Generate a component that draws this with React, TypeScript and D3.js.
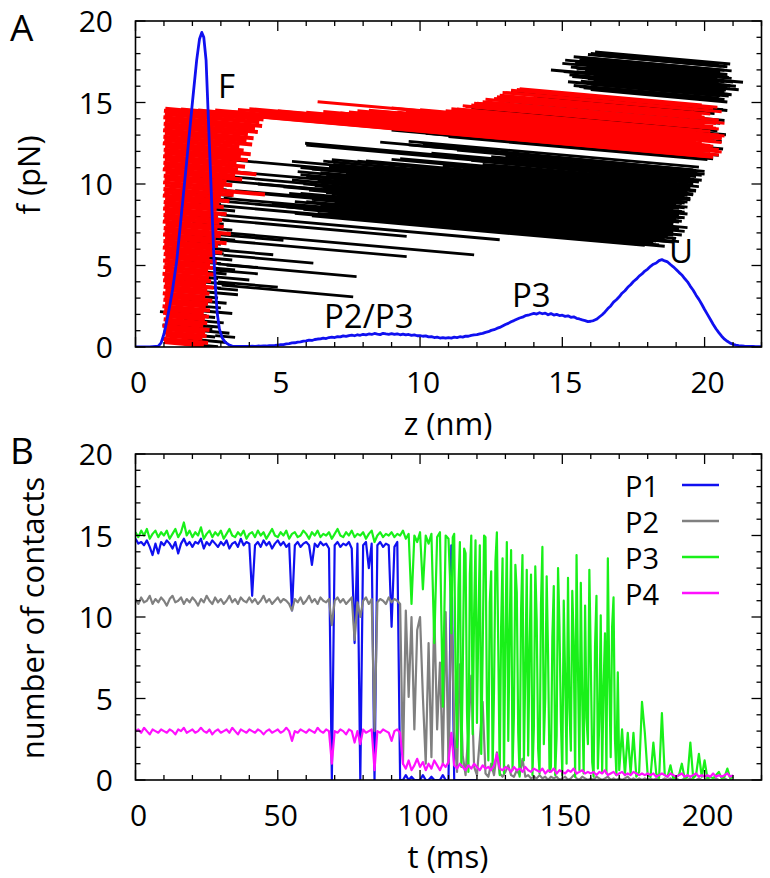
import React from "react";
import * as d3 from "d3";

const W = 770;
const H = 878;
const FONT = "'Open Sans', 'DejaVu Sans', sans-serif";

// ---------- tick labels ----------
const zTickLabels = [0, 5, 10, 15, 20];
const fTickLabels = [0, 5, 10, 15, 20];
const tTickLabels = [0, 50, 100, 150, 200];
const nTickLabels = [0, 5, 10, 15, 20];

// ---------- Panel A: distribution P(z) (blue) ----------
const peakZ = [0, 0.5, 0.8, 0.9, 1.0, 1.1, 1.2, 1.3, 1.45, 1.6, 1.8, 2.0, 2.15, 2.25, 2.33, 2.4, 2.48, 2.55, 2.62, 2.7, 2.76, 2.82, 2.87, 2.95, 3.05, 3.15, 3.3, 3.4];
const peakP = [0, 0, 0.05, 0.25, 0.8, 1.6, 2.5, 3.5, 5.3, 7.9, 11.4, 15.0, 17.6, 18.9, 19.3, 19.0, 17.6, 14.5, 11.4, 7.9, 5.3, 3.4, 2.1, 1.1, 0.55, 0.3, 0.12, 0.06];
// z = 3.5 ... 22.0 nm, every 0.1 nm
const tailZ = d3.range(35, 221).map((i) => i / 10);
const tailP = [
  0.04, 0.03, 0.04, 0.03, 0.04,
  0.04, 0.05, 0.04, 0.06, 0.05, 0.07, 0.06, 0.08, 0.09, 0.10,
  0.12, 0.14, 0.15, 0.19, 0.21, 0.25, 0.26, 0.30, 0.31, 0.36,
  0.37, 0.42, 0.40, 0.46, 0.49, 0.50, 0.55, 0.52, 0.58, 0.60,
  0.58, 0.64, 0.62, 0.68, 0.65, 0.70, 0.73, 0.69, 0.75, 0.72,
  0.78, 0.74, 0.80, 0.77, 0.83, 0.79, 0.76, 0.84, 0.80, 0.78,
  0.82, 0.77, 0.81, 0.75, 0.79, 0.74, 0.77, 0.71, 0.74, 0.69,
  0.70, 0.66, 0.68, 0.62, 0.64, 0.58, 0.61, 0.55, 0.58, 0.54,
  0.57, 0.55, 0.60, 0.58, 0.63, 0.61, 0.67, 0.66, 0.71, 0.74,
  0.76, 0.81, 0.84, 0.90, 0.94, 1.02, 1.06, 1.14, 1.20, 1.29,
  1.38, 1.45, 1.55, 1.62, 1.70, 1.78, 1.83, 1.92, 1.95, 2.01,
  2.06, 2.02, 2.10, 2.04, 2.08, 1.98, 2.05, 1.96, 2.00, 1.93,
  1.95, 1.88, 1.91, 1.82, 1.85, 1.76, 1.72, 1.66, 1.62, 1.56,
  1.58, 1.62, 1.70, 1.84, 1.98, 2.15, 2.36, 2.52, 2.75, 2.90,
  3.08, 3.30, 3.45, 3.66, 3.82, 4.02, 4.16, 4.35, 4.48, 4.66,
  4.78, 4.95, 5.08, 5.15, 5.30, 5.36, 5.28, 5.22, 5.06, 4.92,
  4.76, 4.58, 4.42, 4.20, 4.00, 3.72, 3.48, 3.18, 2.92, 2.62,
  2.30, 2.00, 1.70, 1.40, 1.12, 0.88, 0.66, 0.48, 0.35, 0.24,
  0.17, 0.12, 0.09, 0.07, 0.05, 0.04, 0.03, 0.03, 0.02, 0.02,
  0.02,
];

// ---------- Panel A: trajectory segments [zStart, fStart, zEnd, fEnd] ----------
type Seg = [number, number, number, number];

const blackFolded: Seg[] = [
  [1.7, 0.2, 2.9, 0.01], [1.8, 0.5, 3.2, 0.28], [1.6, 0.8, 2.8, 0.61], [1.7, 1.1, 3.3, 0.85],
  [0.95, 1.35, 2.7, 1.08], [1.8, 1.4, 2.9, 1.23], [1.7, 1.7, 3.1, 1.48], [1.6, 2.0, 2.8, 1.81],
  [0.86, 2.17, 2.5, 1.92], [1.8, 2.3, 3.4, 2.05], [1.7, 2.6, 3.0, 2.40], [1.8, 2.9, 3.2, 2.68],
  [1.6, 3.2, 2.9, 3.0], [1.7, 3.5, 3.6, 3.21], [1.8, 3.8, 3.0, 3.61], [1.7, 4.1, 3.3, 3.85],
  [1.6, 4.4, 2.9, 4.2], [1.8, 4.7, 3.2, 4.48], [1.7, 5.0, 3.5, 4.72], [1.8, 5.3, 3.0, 5.11],
  [1.7, 5.6, 3.4, 5.34], [1.8, 5.9, 3.1, 5.7], [1.7, 6.2, 3.3, 5.95], [1.8, 6.5, 3.0, 6.31],
  [1.9, 6.8, 3.5, 6.55], [1.8, 7.1, 3.2, 6.88], [1.9, 7.4, 3.4, 7.17], [2.0, 7.7, 3.1, 7.53],
  [1.9, 8.0, 3.3, 7.78], [2.0, 8.3, 3.2, 8.11], [1.9, 8.6, 3.5, 8.35], [2.0, 8.9, 3.0, 8.74],
  [2.1, 9.2, 3.3, 9.01], [2.0, 9.5, 3.4, 9.28], [2.1, 9.8, 3.2, 9.63], [2.2, 10.1, 3.3, 9.93],
  [2.1, 10.4, 3.5, 10.18], [2.2, 10.7, 3.0, 10.58], [2.3, 11.0, 3.2, 10.86],
];

const blackLow: Seg[] = [
  [2.97, 5.95, 4.84, 5.66], [3.09, 5.64, 6.25, 5.15], [3.2, 5.03, 7.77, 4.32], [3.03, 3.8, 7.65, 3.08],
  [2.97, 6.56, 9.53, 5.55], [3.09, 7.79, 9.53, 6.79], [3.2, 7.0, 11.9, 5.65], [3.0, 8.1, 12.8, 6.58],
  [2.8, 4.72, 4.3, 4.49], [2.9, 3.9, 3.5, 3.81], [2.9, 3.6, 3.6, 3.49], [2.8, 0.7, 3.5, 0.59],
  [2.8, 4.3, 4.0, 4.11], [2.9, 6.9, 5.2, 6.54], [2.9, 5.1, 4.3, 4.88], [2.9, 4.0, 5.0, 3.67],
];

const blackUnfolded: Seg[] = [
  [6.2, 8.04, 17.9, 6.23], [2.9, 8.68, 18.4, 6.27], [6.8, 8.19, 18.2, 6.42], [5.9, 8.45, 18.9, 6.44],
  [7.4, 8.34, 18.5, 6.62], [3.1, 9.13, 19.0, 6.66], [6.5, 8.72, 18.7, 6.83], [6.0, 8.92, 19.2, 6.87],
  [7.0, 8.88, 18.8, 7.05], [2.7, 9.67, 19.3, 7.09], [6.3, 9.23, 19.1, 7.24], [5.8, 9.43, 19.4, 7.32],
  [6.9, 9.38, 18.9, 7.52], [6.1, 9.62, 18.9, 7.64], [3.0, 10.22, 19.2, 7.71], [6.6, 9.78, 19.0, 7.87],
  [5.9, 10.01, 19.3, 7.93], [7.2, 9.93, 19.1, 8.09], [6.4, 10.17, 19.4, 8.16], [2.8, 10.85, 19.2, 8.32],
  [6.0, 10.48, 18.9, 8.48], [6.7, 10.49, 19.3, 8.54], [5.7, 10.76, 19.0, 8.71], [7.5, 10.6, 19.2, 8.8],
  [6.2, 10.92, 19.4, 8.89], [3.3, 11.49, 19.1, 9.05], [6.8, 11.07, 19.5, 9.11], [5.5, 11.39, 19.3, 9.26],
  [8.5, 11.05, 19.6, 9.33], [9.8, 10.97, 19.4, 9.48], [7.8, 11.4, 19.7, 9.56], [11.5, 10.97, 19.5, 9.74],
  [9.0, 11.51, 19.8, 9.84], [12.2, 11.21, 19.6, 10.07], [6.0, 12.38, 19.9, 10.23], [10.4, 11.89, 19.7, 10.46],
  [13.0, 11.69, 20.0, 10.61], [8.6, 12.57, 19.6, 10.87], [9.6, 12.62, 19.8, 11.04], [9.0, 13.3, 20.3, 11.55],
  [10.2, 13.1, 19.9, 11.6], [11.0, 12.9, 20.1, 11.49], [5.96, 12.5, 19.0, 10.48], [9.6, 12.4, 19.7, 10.84],
  [6.9, 11.5, 19.3, 9.6], [6.95, 11.2, 19.0, 9.33], [5.8, 11.0, 19.3, 8.9], [2.68, 10.55, 19.0, 8.02],
  [2.7, 9.0, 18.2, 6.6], [15.4, 6.95, 18.3, 6.5], [4.3, 10.0, 18.8, 7.75], [3.5, 9.6, 19.1, 7.18],
  [4.8, 8.8, 18.6, 6.66],
  [5.6, 8.2, 18.6, 6.18], [6.4, 8.19, 18.0, 6.4], [7.9, 8.08, 18.7, 6.48], [5.3, 8.6, 19.1, 6.46],
  [6.9, 8.48, 18.4, 6.75], [8.2, 8.39, 18.7, 6.77], [5.6, 8.92, 18.9, 6.86], [7.6, 8.73, 18.9, 7.03],
  [6.2, 9.06, 18.6, 7.15], [8.8, 8.78, 19.0, 7.2], [5.4, 9.43, 19.0, 7.31], [7.3, 9.25, 18.8, 7.44],
  [6.7, 9.47, 18.8, 7.53], [5.2, 9.82, 19.1, 7.66], [8.0, 9.51, 19.1, 7.74], [6.3, 9.89, 19.2, 7.92],
  [7.7, 9.79, 19.0, 8.03], [5.5, 10.25, 18.9, 8.09], [6.9, 10.16, 19.3, 8.27], [7.1, 10.24, 18.8, 8.45],
  [5.8, 10.57, 19.1, 8.5], [8.3, 10.3, 19.4, 8.58], [6.5, 10.7, 18.9, 8.75], [7.4, 10.68, 19.3, 8.83],
  [5.9, 11.03, 19.0, 8.99], [8.9, 10.69, 19.5, 9.03], [7.0, 11.1, 19.2, 9.21], [9.5, 10.83, 19.4, 9.3],
  [6.6, 11.4, 19.6, 9.39], [10.2, 10.96, 19.3, 9.54], [8.1, 11.41, 19.7, 9.61], [10.8, 11.13, 19.4, 9.82],
  [9.3, 11.56, 19.6, 9.95], [11.8, 11.45, 19.8, 10.11], [10.9, 11.72, 19.5, 10.37], [12.5, 11.68, 19.9, 10.53],
  [11.3, 12.08, 19.7, 10.76], [10.1, 12.44, 20.0, 10.77],
];

const blackHigh: Seg[] = [
  [16.15, 18.1, 20.9, 17.36], [15.9, 17.95, 20.6, 17.22], [15.4, 17.8, 20.95, 16.94], [15.6, 17.62, 20.5, 16.86],
  [14.6, 17.0, 21.1, 15.99], [15.8, 17.35, 20.8, 16.57], [15.3, 17.18, 21.35, 16.24], [15.95, 17.02, 20.7, 16.28],
  [15.5, 16.88, 20.9, 16.04], [16.1, 16.72, 20.6, 16.02], [15.7, 16.55, 20.75, 15.77], [16.4, 16.4, 20.45, 15.77],
  [15.2, 16.28, 20.85, 15.4], [16.0, 16.12, 20.55, 15.41], [15.6, 15.98, 20.7, 15.19], [16.6, 15.85, 20.4, 15.26],
  [13.2, 15.7, 20.65, 14.55], [14.4, 15.5, 20.8, 14.51], [14.0, 15.3, 20.35, 14.32], [12.9, 15.1, 20.7, 13.89],
  [13.6, 14.8, 20.55, 13.72], [11.8, 14.6, 20.45, 13.26], [12.5, 14.3, 20.75, 13.02], [11.0, 14.1, 20.6, 12.61],
  [10.5, 13.8, 20.3, 12.28], [11.3, 13.6, 20.65, 12.15], [10.0, 13.4, 20.5, 11.77],
  [15.0, 17.4, 20.95, 16.48], [15.5, 17.1, 21.0, 16.25], [15.8, 16.95, 20.5, 16.22], [16.2, 16.62, 20.8, 15.91],
  [15.9, 16.45, 20.6, 15.72], [16.3, 16.2, 20.9, 15.49], [15.4, 16.05, 20.5, 15.26], [16.0, 15.8, 20.8, 15.03],
  [15.7, 17.75, 20.7, 16.98], [16.5, 17.5, 20.55, 16.87],
  [15.1, 17.6, 20.8, 16.72], [15.45, 17.45, 20.65, 16.64], [15.25, 16.7, 21.2, 15.78], [15.05, 16.9, 20.9, 15.99],
  [15.65, 16.3, 20.95, 15.48], [15.35, 16.6, 20.6, 15.79], [16.2, 17.25, 20.85, 16.53], [15.85, 17.15, 20.45, 16.44],
  [16.3, 17.9, 20.8, 17.2], [16.0, 18.0, 20.5, 17.3], [15.75, 15.9, 20.6, 15.15], [16.1, 16.35, 20.7, 15.64],
];

const redFolded: Seg[] = [
  [1.0, 0.3, 2.4, 0.08], [0.96, 0.5, 2.55, 0.25], [1.05, 0.7, 2.35, 0.5], [0.98, 0.9, 2.5, 0.66],
  [1.02, 1.1, 2.45, 0.88], [0.95, 1.3, 2.6, 1.04], [1.03, 1.5, 2.38, 1.29], [0.99, 1.7, 2.52, 1.46],
  [1.06, 1.9, 2.44, 1.69], [0.97, 2.1, 2.58, 1.85], [1.01, 2.3, 2.4, 2.08], [0.95, 2.5, 2.62, 2.24],
  [1.04, 2.7, 2.47, 2.48], [0.98, 2.9, 2.55, 2.66], [1.02, 3.1, 2.7, 2.84], [0.96, 3.3, 2.45, 3.07],
  [1.05, 3.5, 2.6, 3.26], [0.99, 3.7, 2.52, 3.46], [1.03, 3.9, 2.75, 3.63], [0.97, 4.1, 2.48, 3.87],
  [1.01, 4.3, 2.66, 4.04], [0.95, 4.5, 2.58, 4.25], [1.04, 4.7, 2.8, 4.43], [0.98, 4.9, 2.55, 4.66],
  [1.02, 5.1, 2.72, 4.84], [0.97, 5.3, 2.62, 5.04], [1.05, 5.5, 2.85, 5.22], [0.99, 5.7, 2.6, 5.45],
  [1.03, 5.9, 2.78, 5.63], [0.96, 6.1, 3.05, 5.78], [1.01, 6.3, 2.7, 6.04], [0.98, 6.5, 2.9, 6.2],
  [1.04, 6.7, 3.2, 6.37], [0.97, 6.9, 2.82, 6.61], [1.02, 7.1, 3.0, 6.79], [0.99, 7.3, 3.35, 6.93],
  [1.05, 7.5, 2.88, 7.22], [0.96, 7.7, 3.1, 7.37], [1.01, 7.9, 2.95, 7.6], [0.98, 8.1, 3.05, 7.78],
  [1.03, 8.3, 2.9, 8.01], [0.97, 8.5, 3.2, 8.15], [1.02, 8.7, 2.85, 8.42], [0.99, 8.9, 3.1, 8.57],
  [1.04, 9.1, 2.95, 8.8], [0.96, 9.3, 3.3, 8.94], [1.01, 9.5, 3.0, 9.19], [0.98, 9.7, 3.45, 9.32],
  [1.03, 9.9, 4.55, 9.35], [0.97, 10.1, 3.1, 9.77], [1.02, 10.3, 3.4, 9.93], [0.99, 10.5, 3.2, 10.16],
  [1.05, 10.7, 3.75, 10.28], [0.96, 10.9, 3.5, 10.51], [1.01, 11.1, 4.25, 10.6], [0.98, 11.3, 3.6, 10.89],
  [1.03, 11.5, 3.85, 11.06], [0.97, 11.7, 3.55, 11.3], [1.02, 11.9, 3.95, 11.45], [0.99, 12.1, 3.7, 11.68],
  [1.04, 12.3, 4.05, 11.83], [0.96, 12.5, 3.8, 12.06], [1.01, 12.7, 3.65, 12.29], [0.98, 12.9, 4.1, 12.42],
  [1.03, 13.1, 3.9, 12.66], [0.97, 13.3, 4.15, 12.81], [1.02, 13.5, 3.95, 13.05], [0.99, 13.7, 4.3, 13.19],
  [1.04, 13.9, 4.2, 13.41], [0.98, 14.1, 4.45, 13.56], [1.03, 14.3, 4.35, 13.79], [1.0, 14.5, 4.5, 13.96],
];

const redUnfolded: Seg[] = [
  [13.5, 15.84, 19.9, 14.85], [13.2, 15.75, 20.3, 14.65], [12.9, 15.62, 20.6, 14.43], [12.6, 15.25, 20.0, 14.1],
  [12.4, 14.95, 20.4, 13.71], [12.0, 14.95, 19.8, 13.74], [11.6, 14.75, 20.5, 13.37], [11.3, 14.6, 20.2, 13.22],
  [11.0, 14.45, 20.7, 12.95], [11.0, 14.3, 20.1, 12.89], [10.5, 14.4, 20.6, 12.83], [11.2, 14.5, 19.7, 13.18],
  [10.0, 14.55, 20.4, 12.94], [11.8, 14.85, 20.3, 13.53], [10.8, 14.23, 20.0, 12.8], [9.8, 14.45, 20.3, 12.82],
  [10.2, 14.16, 20.6, 12.55], [9.0, 14.66, 20.0, 12.95], [6.4, 15.05, 20.5, 12.86], [9.65, 14.0, 20.2, 12.36],
  [8.2, 14.53, 20.3, 12.65], [4.26, 14.13, 20.3, 11.64], [7.5, 14.42, 19.9, 12.5], [3.6, 14.57, 20.2, 12.0],
  [1.05, 14.64, 20.1, 11.69], [5.5, 14.3, 20.6, 11.96], [2.8, 14.54, 19.8, 11.9], [2.2, 14.54, 20.0, 11.78],
  [4.0, 14.62, 20.4, 12.08], [6.0, 14.4, 20.2, 12.2], [7.0, 14.2, 20.5, 12.11],
  [12.8, 15.45, 20.2, 14.3], [12.3, 15.2, 20.5, 13.93], [11.9, 14.95, 20.0, 13.69], [11.5, 14.8, 20.4, 13.42],
  [11.1, 14.62, 19.9, 13.26], [10.9, 14.5, 20.5, 13.01], [10.6, 14.35, 20.2, 12.86], [10.3, 14.3, 19.8, 12.83],
  [9.5, 14.5, 20.6, 12.78], [9.2, 14.4, 20.1, 12.71], [8.6, 14.45, 20.4, 12.62], [7.8, 14.5, 19.7, 12.66],
  [7.2, 14.35, 20.3, 12.32], [6.6, 14.45, 20.0, 12.37], [5.0, 14.5, 20.2, 12.14], [4.5, 14.4, 19.9, 12.01],
  [3.3, 14.45, 20.5, 11.78], [1.6, 14.6, 20.3, 11.7], [13.0, 15.6, 19.6, 14.58], [13.4, 15.8, 20.45, 14.71],
  [12.7, 15.35, 19.9, 14.23], [12.2, 15.05, 20.7, 13.73],
];

// ---------- Panel B: number of contacts vs time ----------
const tMs = d3.range(0, 211); // sampling times, ms (1 ms)
const p1 = [
  14.8, 14.5, 14.6, 14.4, 14.7, 14.3, 13.8, 14.5, 13.9, 14.6,
  14.4, 14.7, 14.5, 14.2, 14.6, 13.9, 14.5, 14.8, 14.4, 14.6,
  14.3, 14.6, 14.5, 14.8, 14.2, 14.6, 14.4, 14.7, 14.5, 14.3,
  14.6, 14.4, 14.7, 14.2, 14.5, 14.6, 14.3, 14.8, 14.4, 14.6,
  14.5, 11.3, 14.4, 14.6, 14.3, 14.7, 14.4, 14.6, 14.2, 14.5,
  14.7, 14.4, 14.6, 14.3, 14.5, 10.4, 14.4, 14.6, 14.3, 14.5,
  14.6, 14.4, 13.2, 14.5, 14.3, 14.6, 14.4, 14.5, 14.2, 0.0,
  14.4, 14.6, 14.3, 14.5, 14.4, 14.6, 14.2, 8.4, 14.5, 0.0,
  14.4, 14.6, 13.0, 14.5, 0.0, 14.4, 14.6, 14.3, 14.5, 14.4,
  9.4, 14.3, 14.6, 0.0, 0.0, 0.3, 0.0, 0.2, 0.0, 0.0,
  0.0, 0.3, 0.0, 0.0, 0.2, 0.0, 0.0, 0.0, 0.3, 0.0,
  0.0, 14.4, 0.0, 0.0, 0.0, 0.0, 0.0, 0.0, 0.0, 0.0, 0.0,
];
const p2 = [
  11.1, 10.8, 11.2, 10.9, 11.0, 11.3, 10.8, 11.1, 10.9, 11.2,
  11.0, 10.7, 11.1, 11.3, 10.9, 11.0, 11.2, 10.8, 11.1, 10.9,
  11.2, 11.0, 10.7, 11.1, 10.9, 11.3, 11.0, 10.8, 11.2, 10.9,
  11.1, 10.8, 11.0, 11.3, 10.9, 11.1, 10.8, 11.2, 11.0, 10.9,
  11.2, 10.9, 11.1, 10.8, 11.0, 11.3, 10.9, 11.1, 10.8, 11.0,
  11.2, 10.9, 11.1, 11.0, 10.8, 10.4, 11.1, 10.9, 11.2, 10.8,
  11.0, 11.3, 10.9, 11.1, 10.8, 11.2, 11.0, 10.9, 11.1, 9.5,
  11.0, 11.2, 10.9, 11.1, 10.8, 11.0, 11.2, 8.6, 10.9, 10.0,
  11.0, 11.2, 10.8, 11.1, 3.0, 10.9, 11.1, 11.0, 10.8, 11.2,
  10.9, 11.1, 11.0, 10.8, 1.0, 10.4, 5.1, 10.0, 3.1, 9.2,
  10.0, 5.1, 1.0, 8.4, 1.4, 10.4, 3.1, 7.2, 1.0, 10.3,
  1.0, 11.0, 3.0, 0.5, 7.1, 1.5, 0.3, 3.0, 6.4, 0.8,
  0.3, 2.5, 4.8, 0.4, 0.2, 1.0, 0.3, 1.7, 0.4, 0.2,
  0.5, 0.9, 0.3, 0.2, 0.6, 0.3, 1.3, 0.2, 0.3, 0.1,
  0.2, 0.1, 0.3, 0.1, 0.2, 0.0, 0.2, 0.1, 0.2, 0.0,
  0.1, 0.2, 0.0, 0.1, 0.3, 0.1, 0.0, 0.2, 0.1, 0.0,
  0.1, 0.0, 0.2, 0.1, 0.0, 0.1, 0.2, 0.0, 0.1, 0.0,
  0.1, 0.0, 0.1, 0.2, 0.0, 0.1, 0.0, 0.1, 0.0, 0.1,
  0.0, 0.1, 0.0, 0.1, 0.0, 0.0, 0.1, 0.0, 0.1, 0.0,
  0.1, 0.0, 0.0, 0.1, 0.0, 0.1, 0.0, 0.0, 0.1, 0.0,
  0.0, 0.1, 0.0, 0.0, 0.1, 0.0, 0.0, 0.1, 0.0, 0.0,
  0.0,
];
const p3 = [
  15.2, 14.9, 15.3, 15.0, 15.4, 14.8, 15.1, 15.3, 14.9, 15.2,
  15.0, 15.3, 14.8, 15.1, 15.4, 14.9, 15.2, 15.8, 15.0, 15.3,
  14.9, 15.2, 15.0, 15.5, 14.8, 15.1, 15.3, 14.9, 15.2, 15.0,
  15.3, 14.8, 15.1, 15.4, 15.0, 14.9, 15.2, 15.0, 15.3, 14.8,
  15.1, 15.2, 14.9, 15.3, 15.0, 15.2, 14.8, 15.1, 15.4, 15.0,
  14.9, 15.2, 15.0, 15.3, 14.8, 15.1, 15.2, 14.9, 15.0, 15.3,
  15.1, 14.8, 15.2, 15.0, 15.3, 14.9, 15.1, 15.0, 15.2, 14.8,
  15.1, 15.4, 15.0, 14.9, 15.2, 15.0, 15.3, 14.9, 15.1, 15.0,
  15.2, 14.8, 15.1, 15.3, 14.6, 15.0, 15.2, 14.9, 15.1, 15.0,
  15.2, 14.9, 15.1, 15.0, 15.3, 14.8, 15.1, 10.8, 15.0, 14.6,
  15.2, 11.7, 15.0, 14.5, 15.1, 8.4, 14.9, 15.2, 4.5, 15.0,
  14.8, 9.0, 15.1, 2.0, 14.6, 6.5, 13.9, 0.5, 15.0, 10.2,
  3.5, 14.4, 7.8, 14.9, 1.2, 12.8, 5.5, 15.2, 0.3, 13.6,
  8.9, 2.4, 14.1, 4.0, 11.5, 0.2, 13.8, 6.7, 1.5, 12.6,
  3.2, 9.8, 0.4, 14.3, 5.0, 7.6, 0.8, 11.9, 2.7, 9.4,
  0.3, 6.2, 12.4, 1.8, 8.5, 13.8, 0.6, 4.9, 10.7, 2.2,
  7.4, 0.2, 11.3, 3.6, 0.5, 9.0, 13.6, 1.4, 11.2, 0.3,
  0.6, 3.1, 0.3, 2.9, 0.4, 2.9, 0.2, 0.5, 4.8, 2.9,
  0.3, 0.2, 2.3, 0.4, 0.1, 4.1, 0.3, 0.2, 0.9, 0.1,
  0.2, 0.3, 1.0, 0.1, 0.2, 2.3, 0.1, 0.3, 1.6, 0.2,
  1.2, 0.1, 0.2, 0.1, 0.3, 0.5, 0.1, 0.2, 0.7, 0.1,
  0.2,
];
// extra P3 samples at half-millisecond times in the fluctuating stretch
const t3Half = d3.range(110, 170).map((i) => i + 0.5);
const p3Half = [
  12.5, 14.9, 6.0, 11.8, 0.8, 14.2, 4.2, 12.6, 2.8, 14.7,
  9.6, 1.6, 15.0, 4.8, 10.9, 0.6, 13.4, 7.9, 9.5, 0.4,
  14.6, 9.2, 0.6, 13.2, 2.9, 10.4, 1.2, 12.9, 8.1, 0.3,
  13.1, 1.9, 10.8, 2.2, 12.5, 0.5, 8.8, 0.3, 13.0, 3.6,
  11.0, 1.0, 4.4, 11.6, 0.2, 6.8, 12.1, 0.4, 3.8, 12.9,
  1.1, 8.2, 0.7, 10.1, 5.8, 0.4, 6.3, 9.4, 2.5, 6.6,
];
const p4 = [
  3.0, 3.1, 2.9, 3.2, 3.0, 2.8, 3.1, 3.0, 2.9, 3.1,
  3.0, 2.9, 3.1, 3.0, 2.8, 3.1, 3.0, 3.2, 2.9, 3.0,
  3.1, 2.9, 3.0, 3.2, 3.0, 2.9, 3.1, 2.8, 3.0, 3.1,
  2.9, 3.0, 3.1, 2.9, 3.2, 3.0, 2.8, 3.1, 3.0, 2.9,
  3.1, 3.0, 2.9, 3.1, 3.0, 2.8, 3.0, 3.1, 2.9, 3.0,
  3.1, 2.9, 3.0, 3.2, 3.0, 2.4, 3.0, 2.9, 3.1, 3.0,
  2.9, 3.1, 3.0, 2.9, 3.2, 3.0, 2.9, 3.1, 3.0, 1.0,
  3.0, 2.9, 3.1, 3.0, 2.8, 3.1, 3.0, 2.3, 3.0, 2.2,
  3.1, 2.9, 3.0, 3.1, 0.6, 3.0, 2.9, 3.1, 3.0, 2.9,
  2.4, 3.0, 3.1, 2.9, 1.0, 0.7, 1.2, 0.6, 0.9, 1.3,
  0.8, 1.1, 0.6, 1.0, 0.7, 1.2, 0.9, 0.6, 1.0, 0.8,
  1.1, 2.9, 0.9, 0.7, 1.0, 0.8, 0.6, 0.9, 0.7, 1.0,
  0.8, 0.6, 0.9, 0.7, 0.8, 0.6, 0.9, 1.6, 0.7, 0.6,
  0.8, 0.7, 0.5, 0.8, 0.6, 0.7, 0.5, 0.8, 0.6, 0.5,
  0.7, 0.6, 0.5, 0.7, 0.4, 0.6, 0.5, 0.7, 0.4, 0.6,
  0.5, 0.4, 0.6, 0.5, 0.7, 0.4, 0.5, 0.6, 0.4, 0.5,
  0.4, 0.5, 0.3, 0.5, 0.4, 0.6, 0.3, 0.4, 0.5, 0.3,
  0.4, 0.5, 0.3, 0.4, 0.3, 0.5, 0.4, 0.3, 0.4, 0.3,
  0.4, 0.3, 0.4, 0.2, 0.3, 0.4, 0.3, 0.2, 0.4, 0.3,
  0.2, 0.3, 0.4, 0.2, 0.3, 0.2, 0.3, 0.4, 0.2, 0.3,
  0.2, 0.3, 0.2, 0.4, 0.2, 0.3, 0.2, 0.3, 0.4, 0.2,
  0.3,
];

const seriesNames = ["P1", "P2", "P3", "P4"];
const seriesColors = ["#1010f0", "#808080", "#19f019", "#ff10ff"];

// ---------- layout ----------
const A = { left: 135.5, right: 761.5, top: 21, bottom: 347 };
const B = { left: 135.5, right: 761.5, top: 454, bottom: 780 };

const xA = d3.scaleLinear().domain([0, 22]).range([A.left, A.right]);
const yA = d3.scaleLinear().domain([0, 20]).range([A.bottom, A.top]);
const xB = d3.scaleLinear().domain([0, 220]).range([B.left, B.right]);
const yB = d3.scaleLinear().domain([0, 20]).range([B.bottom, B.top]);

type Box = { left: number; right: number; top: number; bottom: number };

function Frame({ box, xs, ys, xMinor, xMajor, yMinor, yMajor }: {
  box: Box; xs: d3.ScaleLinear<number, number>; ys: d3.ScaleLinear<number, number>;
  xMinor: number; xMajor: number; yMinor: number; yMajor: number;
}) {
  const [x0, x1] = xs.domain();
  const [y0, y1] = ys.domain();
  const xt = d3.range(x0, x1 + 1e-9, xMinor);
  const yt = d3.range(y0, y1 + 1e-9, yMinor);
  const isMaj = (v: number, m: number) => Math.abs(v / m - Math.round(v / m)) < 1e-6;
  const lines: React.ReactNode[] = [];
  xt.forEach((v, i) => {
    const L = isMaj(v, xMajor) ? 10 : 5;
    const x = xs(v);
    lines.push(<line key={"xb" + i} x1={x} x2={x} y1={box.bottom} y2={box.bottom - L} />);
    lines.push(<line key={"xt" + i} x1={x} x2={x} y1={box.top} y2={box.top + L} />);
  });
  yt.forEach((v, i) => {
    const L = isMaj(v, yMajor) ? 10 : 5;
    const y = ys(v);
    lines.push(<line key={"yl" + i} x1={box.left} x2={box.left + L} y1={y} y2={y} />);
    lines.push(<line key={"yr" + i} x1={box.right} x2={box.right - L} y1={y} y2={y} />);
  });
  return (
    <g stroke="#000" strokeWidth={1.3} fill="none">
      {lines}
      <rect x={box.left} y={box.top} width={box.right - box.left} height={box.bottom - box.top} strokeWidth={1.6} />
    </g>
  );
}

function Segs({ segs, color, width, prefix }: { segs: Seg[]; color: string; width: number; prefix: string }) {
  return (
    <g stroke={color} strokeWidth={width} strokeLinecap="butt">
      {segs.map((s, i) => (
        <line key={prefix + i} x1={xA(s[0])} y1={yA(s[1])} x2={xA(s[2])} y2={yA(s[3])} />
      ))}
    </g>
  );
}

export default function App() {
  const bluePts: [number, number][] = peakZ
    .map((z, i) => [z, peakP[i]] as [number, number])
    .concat(tailZ.map((z, i) => [z, tailP[i]] as [number, number]));
  const lineA = d3.line<[number, number]>().x((d) => xA(d[0])).y((d) => yA(d[1]));
  const lineB = d3.line<[number, number]>().x((d) => xB(d[0])).y((d) => yB(d[1]));

  const toPts = (vals: number[]) => vals.map((v, i) => [tMs[i], v] as [number, number]);
  const p3Pts = toPts(p3)
    .concat(t3Half.map((t, i) => [t, p3Half[i]] as [number, number]))
    .sort((a, b) => a[0] - b[0]);
  const seriesPts = [toPts(p1), toPts(p2), p3Pts, toPts(p4)];

  const tickFont = 30;
  const titleFont = 31;

  return (
    <svg width={W} height={H} viewBox={`0 0 ${W} ${H}`} style={{ display: "block", position: "absolute", left: 0, top: 0, background: "#fff" }} fontFamily={FONT}>
      <rect x={0} y={0} width={W} height={H} fill="#fff" />
      <defs>
        <clipPath id="clipA">
          <rect x={A.left} y={A.top} width={A.right - A.left} height={A.bottom - A.top} />
        </clipPath>
        <clipPath id="clipB">
          <rect x={B.left} y={B.top} width={B.right - B.left} height={B.bottom - B.top} />
        </clipPath>
      </defs>

      {/* ---------------- Panel A ---------------- */}
      <g clipPath="url(#clipA)">
        <Segs segs={blackFolded} color="#000" width={3} prefix="bf" />
        <Segs segs={blackLow} color="#000" width={2.8} prefix="bl" />
        <Segs segs={blackUnfolded} color="#000" width={2.8} prefix="bu" />
        <Segs segs={blackHigh} color="#000" width={3} prefix="bh" />
        <Segs segs={redFolded} color="#ff0000" width={4} prefix="rf" />
        <Segs segs={redUnfolded} color="#ff0000" width={3} prefix="ru" />
        <path d={lineA(bluePts) || ""} fill="none" stroke="#1010f0" strokeWidth={2.8} strokeLinejoin="round" />
      </g>
      <g fontSize={33} fill="#000">
        <text x={218} y={98}>F</text>
        <text x={324} y={328}>P2/P3</text>
        <text x={512} y={307}>P3</text>
        <text x={669} y={263}>U</text>
      </g>
      <Frame box={A} xs={xA} ys={yA} xMinor={1} xMajor={5} yMinor={1} yMajor={5} />
      <g fontSize={tickFont} fill="#000">
        {zTickLabels.map((v) => (
          <text key={"zl" + v} x={xA(v) + 3} y={A.bottom + 46} textAnchor="middle">{v}</text>
        ))}
        {fTickLabels.map((v) => (
          <text key={"fl" + v} x={113} y={yA(v) + 11} textAnchor="end">{v}</text>
        ))}
      </g>
      <text x={448} y={A.bottom + 88} fontSize={titleFont} textAnchor="middle">z (nm)</text>
      <text transform={`translate(40, 175) rotate(-90)`} fontSize={titleFont} textAnchor="middle">f (pN)</text>
      <text x={10} y={41} fontSize={37}>A</text>

      {/* ---------------- Panel B ---------------- */}
      <g clipPath="url(#clipB)">
        {seriesPts.map((pts, si) => (
          <path
            key={"s" + si}
            d={lineB(pts) || ""}
            fill="none"
            stroke={seriesColors[si]}
            strokeWidth={2.2}
            strokeLinejoin="round"
          />
        ))}
      </g>
      <g fontSize={29} fill="#000">
        {seriesNames.map((n, i) => (
          <g key={"lg" + n}>
            <text x={659} y={497 + i * 36} textAnchor="end">{n}</text>
            <line x1={682} x2={719} y1={485 + i * 36} y2={485 + i * 36} stroke={seriesColors[i]} strokeWidth={2.5} />
          </g>
        ))}
      </g>
      <Frame box={B} xs={xB} ys={yB} xMinor={10} xMajor={50} yMinor={1} yMajor={5} />
      <g fontSize={tickFont} fill="#000">
        {tTickLabels.map((v) => (
          <text key={"tl" + v} x={xB(v) + 3} y={B.bottom + 46} textAnchor="middle">{v}</text>
        ))}
        {nTickLabels.map((v) => (
          <text key={"nl" + v} x={113} y={yB(v) + 11} textAnchor="end">{v}</text>
        ))}
      </g>
      <text x={448} y={B.bottom + 88} fontSize={titleFont} textAnchor="middle">t (ms)</text>
      <text transform={`translate(44, 618) rotate(-90)`} fontSize={31} textAnchor="middle">number of contacts</text>
      <text x={10} y={464} fontSize={37}>B</text>
    </svg>
  );
}
